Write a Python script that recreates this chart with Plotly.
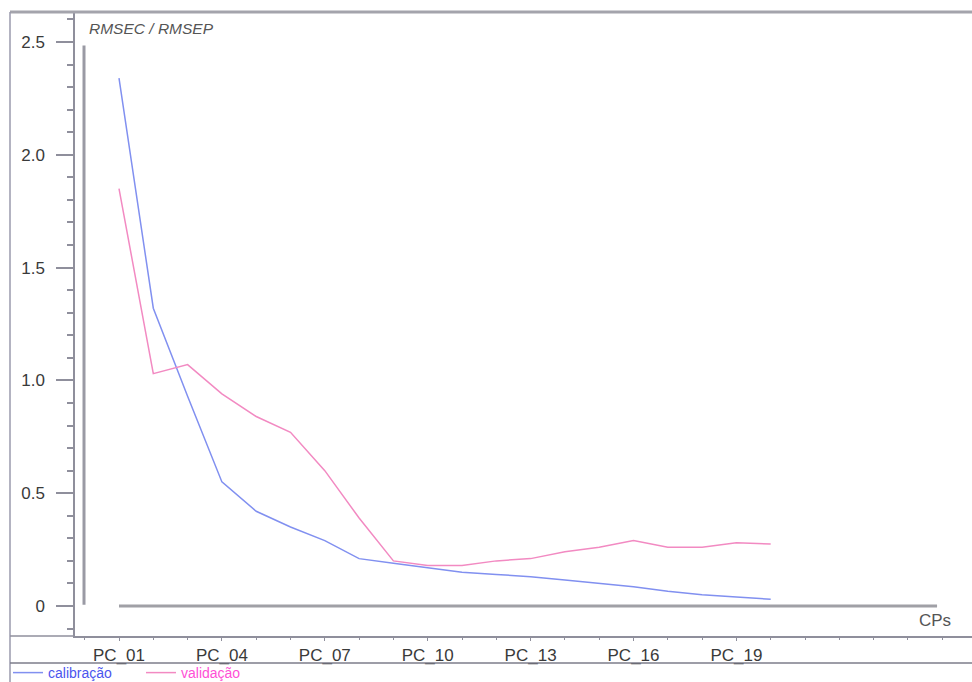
import plotly.graph_objects as go

categories = [f"PC_{i:02d}" for i in range(1, 21)]
x_pos = list(range(1, 21))
calibracao = [2.34, 1.32, 0.93, 0.55, 0.42, 0.35, 0.29, 0.21, 0.19, 0.17,
              0.15, 0.14, 0.13, 0.115, 0.10, 0.085, 0.065, 0.05, 0.04, 0.03]
validacao = [1.85, 1.03, 1.07, 0.94, 0.84, 0.77, 0.60, 0.39, 0.20, 0.18,
             0.18, 0.20, 0.21, 0.24, 0.26, 0.29, 0.26, 0.26, 0.28, 0.275]
y_tickvals = [0, 0.5, 1.0, 1.5, 2.0, 2.5]
y_ticktext = ["0", "0.5", "1.0", "1.5", "2.0", "2.5"]
x_tickvals = [1, 4, 7, 10, 13, 16, 19]
x_ticktext = ["PC_01", "PC_04", "PC_07", "PC_10", "PC_13", "PC_16", "PC_19"]

W, H = 972, 682
L, R, T, B = 75, 0, 12, 46
pw, ph = W - L - R, H - T - B

def px(xp):
    return (xp - L) / pw

def py(yp):
    return (H - B - yp) / ph

fig = go.Figure()
fig.add_trace(go.Scatter(
    x=x_pos, y=calibracao, mode="lines",
    name="<span style='color:#4b55ee'>calibração</span>",
    line=dict(color="#8190f0", width=1.5)))
fig.add_trace(go.Scatter(
    x=x_pos, y=validacao, mode="lines",
    name="<span style='color:#ff4fd6'>validação</span>",
    line=dict(color="#f28ac2", width=1.5)))

frame = "#8f8f9c"
shapes = [
    dict(type="line", xref="paper", yref="paper", x0=px(10), x1=px(972), y0=py(12), y1=py(12),
         line=dict(color="#a4a4ac", width=3)),
    dict(type="line", xref="paper", yref="paper", x0=px(10), x1=px(10), y0=py(12), y1=py(682),
         line=dict(color="#9a9aac", width=1.5)),
    dict(type="line", xref="paper", yref="paper", x0=px(10), x1=px(75), y0=py(636), y1=py(636),
         line=dict(color=frame, width=1.5)),
    dict(type="line", xref="paper", yref="paper", x0=px(10), x1=px(972), y0=py(663), y1=py(663),
         line=dict(color="#7d7d8a", width=1.5)),
    dict(type="line", xref="x", yref="y", x0=-0.02, x1=-0.02, y0=0.005, y1=2.485,
         line=dict(color="#9a9aa4", width=3)),
    dict(type="line", xref="x", yref="y", x0=1, x1=24.85, y0=0, y1=0,
         line=dict(color="#a0a0a6", width=3)),
]

fig.update_layout(
    width=W, height=H,
    margin=dict(l=L, r=R, t=T, b=B, pad=0, autoexpand=False),
    paper_bgcolor="white", plot_bgcolor="white",
    font=dict(family="Liberation Sans, Arial, sans-serif", color="#444"),
    shapes=shapes,
    showlegend=True,
    legend=dict(orientation="h", x=px(8), y=py(657), xanchor="left", yanchor="top",
                font=dict(size=14), bgcolor="rgba(0,0,0,0)", itemwidth=30,
                entrywidth=88, entrywidthmode="pixels",
                tracegroupgap=0),
    annotations=[
        dict(text="<i>RMSEC / RMSEP</i>", xref="paper", yref="paper",
             x=px(87), y=py(28), xanchor="left", yanchor="middle", showarrow=False,
             font=dict(size=15.5, color="#555")),
        dict(text="CPs", xref="paper", yref="paper",
             x=px(935), y=py(620), xanchor="center", yanchor="middle", showarrow=False,
             font=dict(size=17, color="#555")),
    ],
)

x0v = 1 + (L - 119) / 34.3
x1v = 1 + (W - 119) / 34.3
fig.update_xaxes(
    range=[x0v, x1v], showgrid=False, zeroline=False, automargin=False,
    showline=True, linecolor=frame, linewidth=1.5,
    tickmode="array", tickvals=x_tickvals, ticktext=x_ticktext,
    ticks="outside", ticklen=3, tickcolor=frame, tickwidth=1,
    ticklabelstandoff=0,
    tickfont=dict(size=17, color="#3a3a3a"),
    minor=dict(tickmode="linear", tick0=1, dtick=1, ticks="outside", ticklen=2,
               tickcolor=frame),
)
y_unit = 225.6
y0v = -(636 - 606) / y_unit
y1v = (606 - 12) / y_unit
fig.update_yaxes(
    range=[y0v, y1v], showgrid=False, zeroline=False, automargin=False,
    showline=True, linecolor=frame, linewidth=1.5,
    tickmode="array", tickvals=y_tickvals, ticktext=y_ticktext,
    ticks="outside", ticklen=17, tickcolor=frame, tickwidth=1.5,
    ticklabelstandoff=8,
    tickfont=dict(size=17, color="#3a3a3a"),
    minor=dict(tickmode="linear", tick0=0, dtick=0.1, ticks="outside", ticklen=6,
               tickcolor=frame),
)

fig.write_html("out.html")
